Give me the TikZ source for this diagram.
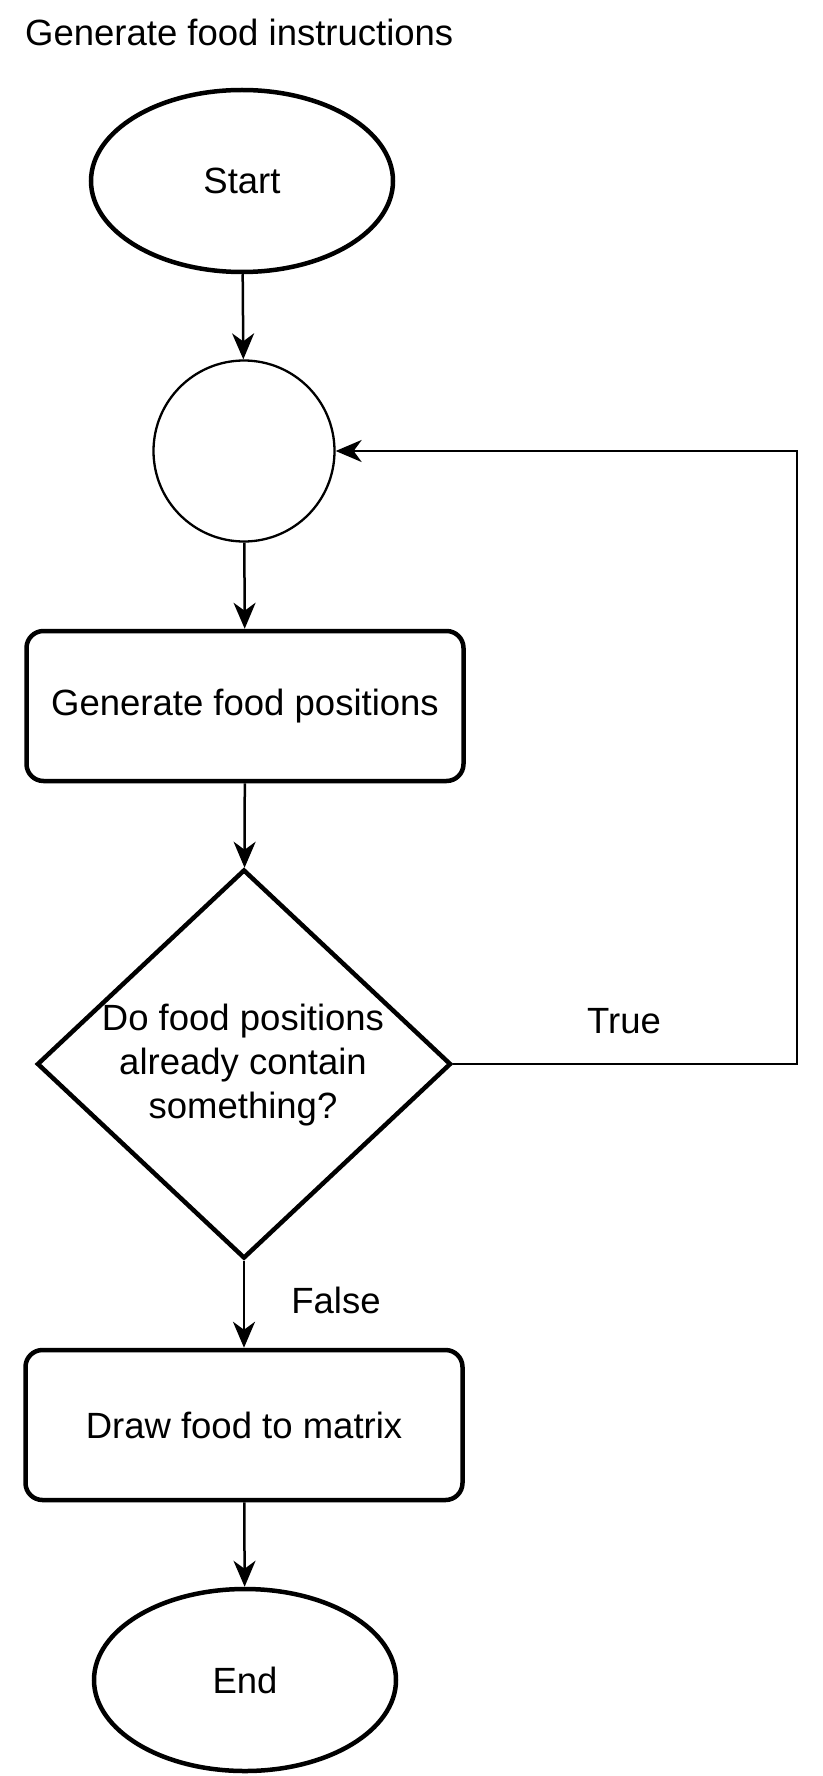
\documentclass[tikz,border=0pt]{standalone}
\usepackage{fontspec}
\setmainfont{Liberation Sans}
\usetikzlibrary{shapes.geometric,arrows.meta}
\begin{document}
\begin{tikzpicture}[x=1pt,y=-1pt,
  every node/.style={font=\fontsize{36.5}{43.6}\selectfont},
  term/.style={draw,ellipse,line width=4.5pt,minimum width=302pt,minimum height=182pt,inner sep=0pt},
  junc/.style={draw,circle,line width=2.3pt,minimum size=181pt,inner sep=0pt},
  proc/.style={draw,rectangle,rounded corners=17pt,line width=4.5pt,minimum width=437pt,minimum height=150pt,inner sep=0pt},
  deci/.style={draw,diamond,line width=4.5pt,minimum width=414pt,minimum height=389pt,inner sep=0pt},
  arr/.style={line width=2.5pt,-{Stealth[length=26pt,width=22pt,inset=8pt]}},
  lbl/.style={inner sep=0pt}
]
\useasboundingbox (0,0) rectangle (822,1776);
\node[lbl,anchor=west] (title) at (25,32) {Generate food instructions};
\node[term] (start) at (242,181) {Start};
\node[junc] (junction) at (244,451) {};
\node[proc] (gen) at (245,706) {Generate food positions};
\node[deci] (dec) at (244,1064) {};
\node[lbl,align=center] (dectext) at (243,1065) {Do food positions\\already contain\\something?};
\node[proc] (drawm) at (244,1425) {Draw food to matrix};
\node[term] (end) at (245,1680) {End};
\node[lbl] (truelbl) at (624,1021) {True};
\node[lbl] (falselbl) at (336,1300) {False};
\coordinate (corner) at (797,1064);
\draw[arr] (start) -- (junction);
\draw[arr] (junction) -- (gen);
\draw[arr] (gen) -- (dec);
\draw[arr] (dec) -- (drawm);
\draw[arr] (drawm) -- (end);
\draw[arr] (dec.east) -- (corner) |- (junction.east);
\end{tikzpicture}
\end{document}
